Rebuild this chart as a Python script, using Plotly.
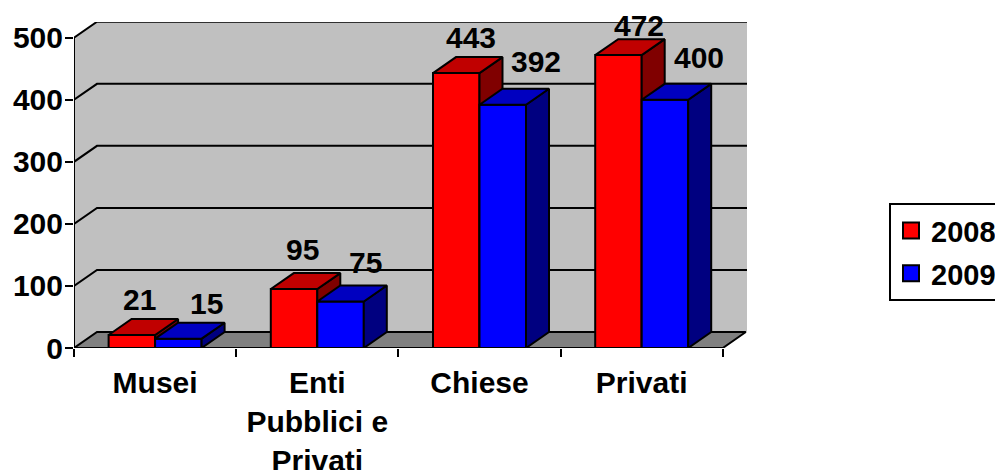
import plotly.graph_objects as go

categories = ["Musei", "Enti<br>Pubblici e<br>Privati", "Chiese", "Privati"]
values_2008 = [21, 95, 443, 472]
values_2009 = [15, 75, 392, 400]
y_ticks = [0, 100, 200, 300, 400, 500]

# style / geometry
W, H = 995, 470
LEFT, RIGHT, TOP, BOTTOM = 74, 747, 21.5, 348
CAT_PX = 162.2
Y_PX = 0.6215  # px per unit
DX = 23 / CAT_PX
DY = 16 / Y_PX
BAR = 46.5 / CAT_PX
FS = 30
FONT = dict(family="Liberation Sans", size=FS, color="black", weight="bold")
x_range = [0, (RIGHT - LEFT) / CAT_PX]
y_range = [0, (BOTTOM - TOP) / Y_PX]
n = len(categories)
centers = [i + 0.5 for i in range(n)]
LINE = dict(color="black", width=2)


def poly(points, fill, name, xa="x", ya="y"):
    xs, ys = [], []
    for p in points:
        xs += [q[0] for q in p] + [p[0][0], None]
        ys += [q[1] for q in p] + [p[0][1], None]
    return go.Scatter(x=xs, y=ys, mode="lines", fill="toself", fillcolor=fill, line=LINE,
                      hoverinfo="skip", showlegend=False, cliponaxis=False, name=name,
                      xaxis=xa, yaxis=ya)


def lines(segs, name, xa="x", ya="y"):
    xs, ys = [], []
    for s in segs:
        xs += [q[0] for q in s] + [None]
        ys += [q[1] for q in s] + [None]
    return go.Scatter(x=xs, y=ys, mode="lines", line=LINE, hoverinfo="skip", showlegend=False,
                      cliponaxis=False, name=name, xaxis=xa, yaxis=ya)


top = y_ticks[-1]
fig = go.Figure()

# walls and floor
fig.add_trace(go.Scatter(
    x=[0, DX, x_range[1], x_range[1], DX, 0, 0], y=[0, DY, DY, top + DY, top + DY, top, 0],
    mode="lines", fill="toself", fillcolor="#C0C0C0", line=dict(width=0), hoverinfo="skip",
    showlegend=False, cliponaxis=False, name="wall"))
fig.add_trace(poly([[(0, 0), (n, 0), (n + DX, DY), (DX, DY)]], "#808080", "floor"))
fig.add_trace(lines(
    [[(0, v), (DX, v + DY), (x_range[1], v + DY)] for v in y_ticks[1:]]
    + [[(0, 0), (0, top)], [(0, 0), (n, 0)]], "grid"))


def series(values, offset, front, top_col, side_col, label, xa, ya):
    fig.add_trace(go.Bar(x=centers, y=values, width=BAR, offset=offset, name=label,
                         marker=dict(color=front, line=LINE), showlegend=False,
                         cliponaxis=False, hoverinfo="skip", xaxis=xa, yaxis=ya))
    tops, sides = [], []
    for c, v in zip(centers, values):
        x0 = c + offset
        x1 = x0 + BAR
        tops.append([(x0, v), (x1, v), (x1 + DX, v + DY), (x0 + DX, v + DY)])
        sides.append([(x1, 0), (x1 + DX, DY), (x1 + DX, v + DY), (x1, v)])
    fig.add_trace(poly(sides, side_col, label + " side", xa, ya))
    fig.add_trace(poly(tops, top_col, label + " top", xa, ya))
    fig.add_trace(go.Scatter(x=[None], y=[None], mode="markers", name=label,
                             legendgroup=label, hoverinfo="skip",
                             marker=dict(symbol="square", size=16, color=front,
                                         line=dict(color="black", width=2)),
                             xaxis=xa, yaxis=ya))


series(values_2008, -BAR, "#FF0000", "#C00000", "#800000", "2008", "x2", "y2")
series(values_2009, 0, "#0000FF", "#0000C0", "#000080", "2009", "x3", "y3")

# data labels: pixel nudges from the top of each bar's front face
nudge_2008 = [(8, 35), (8, 40), (15, 36), (21, 30)]
nudge_2009 = [(28, 35), (25, 39), (33, 43), (34, 42)]
ann = []
for vals, off, nudge in ((values_2008, -BAR / 2, nudge_2008), (values_2009, BAR / 2, nudge_2009)):
    for c, v, (nx, ny) in zip(centers, vals, nudge):
        ann.append(dict(x=c + off, y=v, xref="x3", yref="y3", text=str(v), showarrow=False,
                        xshift=nx, yshift=ny, xanchor="center", yanchor="middle",
                        font=FONT))

hidden = dict(visible=False, fixedrange=True)
fig.update_layout(
    width=W, height=H,
    margin=dict(l=LEFT, r=W - RIGHT, t=TOP, b=H - BOTTOM, pad=0, autoexpand=False),
    paper_bgcolor="white", plot_bgcolor="rgba(0,0,0,0)",
    font=FONT, barmode="overlay", annotations=ann,
    xaxis=dict(range=x_range, tickmode="array", tickvals=list(range(n + 1)), ticktext=[""] * (n + 1),
               ticks="outside", ticklen=8, tickwidth=2, tickcolor="black",
               showgrid=False, zeroline=False, showline=False, fixedrange=True),
    yaxis=dict(range=y_range, tickmode="array", tickvals=y_ticks, ticks="outside", ticklen=8,
               tickwidth=2, tickcolor="black", tickfont=FONT, showgrid=False, zeroline=False,
               showline=False, fixedrange=True, ticklabelstandoff=-4),
    xaxis2=dict(range=x_range, overlaying="x", anchor="y2", **hidden),
    yaxis2=dict(range=y_range, overlaying="y", anchor="x2", **hidden),
    xaxis3=dict(range=x_range, overlaying="x", anchor="y3", side="bottom", tickmode="array",
                tickvals=centers, ticktext=categories, ticks="", tickfont=FONT, tickangle=0,
                ticklabelstandoff=14, showgrid=False, zeroline=False, showline=False, fixedrange=True),
    yaxis3=dict(range=y_range, overlaying="y", anchor="x3", **hidden),
    legend=dict(x=(889 - LEFT) / (RIGHT - LEFT), y=(BOTTOM - 203) / (BOTTOM - TOP),
                xanchor="left", yanchor="top", bgcolor="white", bordercolor="black", borderwidth=2,
                font=dict(family="Liberation Sans", size=29, color="black", weight="bold"),
                traceorder="grouped", tracegroupgap=2, itemclick=False, itemdoubleclick=False),
)

fig.write_html("out.html", config={"displayModeBar": False},
               post_script="document.body.style.margin='0';document.body.style.overflow='hidden';")
